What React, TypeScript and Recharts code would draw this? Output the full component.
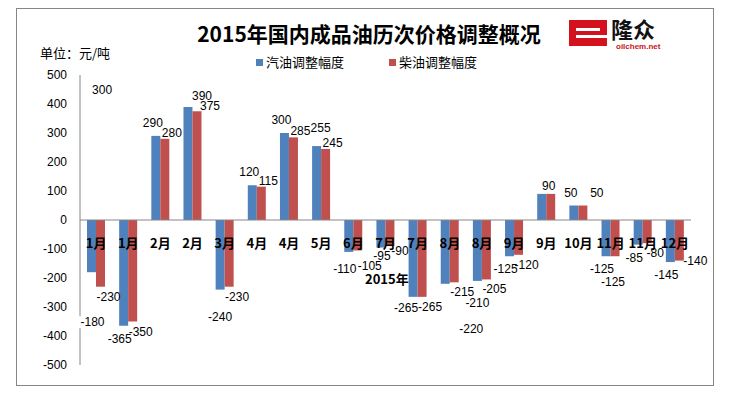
import { Bar, ComposedChart, LabelList, Line, ReferenceLine, XAxis, YAxis } from 'recharts';

const months = ['1月', '1月', '2月', '2月', '3月', '4月', '4月', '5月', '6月', '7月', '7月', '8月', '8月', '9月', '9月', '10月', '11月', '11月', '12月'];
const gasoline = [-180, -365, 290, 390, -240, 120, 300, 255, -110, -95, -265, -220, -210, -125, 90, 50, -125, -85, -145];
const diesel = [-230, -350, 280, 375, -230, 115, 285, 245, -105, -90, -265, -215, -205, -120, 90, 50, -125, -80, -140];
// stray data label that sits above the first group in the original
const stray = [300, null, null, null, null, null, null, null, null, null, null, null, null, null, null, null, null, null, null];
const yTicks = [-500, -400, -300, -200, -100, 0, 100, 200, 300, 400, 500];

const W = 730;
const H = 396;
const margin = { top: 75, right: 39, bottom: 30, left: 30 };
const plotH = H - margin.top - margin.bottom - 1;
const zeroY = margin.top + plotH / 2;

const numFont = '"Liberation Sans", Arial, sans-serif';
const cjkFont = '"Noto Sans CJK SC", "Noto Sans", sans-serif';

const data = months.map((m, i) => ({ month: m, gas: gasoline[i], dsl: diesel[i], stray: stray[i] }));

// Excel labels were dragged around by hand; nudges for the odd ones
const nudges: Record<string, { dx?: number; dy?: number; hide?: boolean; bg?: boolean }> = {
  'gas-0': { dx: 1, dy: 50, bg: true },
  'gas-3': { dx: 14, dy: -11 },
  'gas-4': { dx: 0, dy: 27 },
  'gas-7': { dx: 4, dy: -18 },
  'gas-8': { dx: -4, dy: 17 },
  'gas-9': { dx: 1, dy: 8 },
  'gas-10': { dx: -7, dy: 11 },
  'gas-11': { dx: 26, dy: 45 },
  'gas-12': { dx: 0, dy: 22 },
  'gas-14': { dx: 7, dy: -8 },
  'dsl-3': { dx: 13, dy: -5 },
  'dsl-8': { dx: 12, dy: 16 },
  'dsl-9': { dx: 10, dy: 5 },
  'dsl-14': { hide: true },
  'dsl-15': { dx: 14, dy: -13 },
  'dsl-16': { dx: -2, dy: 26 },
  'dsl-18': { dx: 16, dy: 0 },
  'stray-0': { dx: 6, dy: -43 },
};

const makeLabel = (series: string) => (props: any) => {
  const { x, y, width, height, value, index } = props;
  if (value == null) return null;
  const w = Number(width) || 0;
  const h = Number(height) || 0;
  const cx = Number(x) + w / 2;
  const v = Number(value);
  const end = v >= 0 ? Math.min(Number(y), Number(y) + h) : Math.max(Number(y), Number(y) + h);
  let base = { dx: 0, dy: 0 };
  if (series === 'gas') base = v >= 0 ? { dx: -3, dy: -13 } : { dx: -4, dy: 13 };
  if (series === 'dsl') base = v >= 0 ? { dx: 7, dy: -6 } : { dx: 8, dy: 10 };
  const t: { dx: number; dy: number; hide?: boolean; bg?: boolean } = { ...base, ...(nudges[`${series}-${index}`] || {}) };
  if (t.hide) return null;
  const txt = String(value);
  const tw = txt.length * 6.7;
  return (
    <g>
      {t.bg && <rect x={cx + t.dx - tw / 2 - 1} y={end + t.dy - 6} width={tw + 2} height={12} fill="#fff" />}
      <text x={cx + t.dx} y={end + t.dy} textAnchor="middle" dominantBaseline="central" fontSize={12} fontFamily={numFont} fill="#000">
        {txt}
      </text>
    </g>
  );
};

const MonthTick = (props: any) => {
  const { x, payload } = props;
  return (
    <text x={x} y={zeroY + 22} textAnchor="middle" dominantBaseline="central" fontSize={13} fontWeight="bold" fontFamily={cjkFont} fill="#000">
      {payload.value}
    </text>
  );
};

function Logo() {
  return (
    <div style={{ position: 'absolute', left: 569, top: 14 }}>
      <svg width={110} height={40} style={{ overflow: 'visible' }}>
        <rect x={0} y={6} width={38} height={26} fill="#d4121e" />
        <rect x={7} y={14} width={24} height={3} fill="#fff" />
        <rect x={7} y={21} width={31} height={3} fill="#fff" />
        <text x={42} y={24} fontSize={22} fontWeight="bold" fontFamily={cjkFont} fill="#111">隆众</text>
        <text x={47} y={35} fontSize={8} fontWeight="bold" fontFamily={numFont} fill="#c8141c">oilchem.net</text>
      </svg>
    </div>
  );
}

export default function App() {
  return (
    <div style={{ position: 'absolute', left: 0, top: 0, width: W, height: H, background: '#fff', fontFamily: cjkFont }}>
      <div style={{ position: 'absolute', left: 16, top: 8, width: 698, height: 378, border: '1px solid #868686', boxSizing: 'border-box' }} />
      <div style={{ position: 'absolute', left: 0, width: 738, top: 20, textAlign: 'center', fontSize: 21, fontWeight: 'bold', color: '#000', lineHeight: '26px' }}>
        2015年国内成品油历次价格调整概况
      </div>
      <Logo />
      <div style={{ position: 'absolute', left: 40, top: 44, fontSize: 13, color: '#000', lineHeight: '18px' }}>单位：元/吨</div>
      <div style={{ position: 'absolute', left: 256, top: 53, fontSize: 13, color: '#000', lineHeight: '18px', display: 'flex', alignItems: 'center' }}>
        <span style={{ width: 7, height: 7, background: '#4F81BD', marginRight: 3 }} />
        <span>汽油调整幅度</span>
        <span style={{ width: 7, height: 7, background: '#C0504D', marginLeft: 45, marginRight: 3 }} />
        <span>柴油调整幅度</span>
      </div>
      <div style={{ position: 'absolute', left: 0, top: 0 }}>
        <ComposedChart width={W} height={H} data={data} margin={margin} barGap={0} barSize={9}>
          <XAxis dataKey="month" height={1} axisLine={false} tickLine={false} interval={0} tick={<MonthTick />} />
          <YAxis
            width={50}
            domain={[-500, 500]}
            ticks={yTicks}
            interval={0}
            tickLine={false}
            tickMargin={7}
            axisLine={{ stroke: '#868686' }}
            tick={{ fontSize: 12, fill: '#000', fontFamily: numFont }}
          />
          <ReferenceLine y={0} stroke="#868686" />
          <Bar dataKey="gas" fill="#4F81BD" isAnimationActive={false}>
            <LabelList dataKey="gas" content={makeLabel('gas')} />
          </Bar>
          <Bar dataKey="dsl" fill="#C0504D" isAnimationActive={false}>
            <LabelList dataKey="dsl" content={makeLabel('dsl')} />
          </Bar>
          <Line dataKey="stray" stroke="none" dot={false} activeDot={false} isAnimationActive={false} connectNulls={false}>
            <LabelList dataKey="stray" content={makeLabel('stray')} />
          </Line>
        </ComposedChart>
      </div>
      <div style={{ position: 'absolute', left: 365, top: 270, fontSize: 13, fontWeight: 'bold', color: '#000', lineHeight: '18px' }}>2015年</div>
    </div>
  );
}
